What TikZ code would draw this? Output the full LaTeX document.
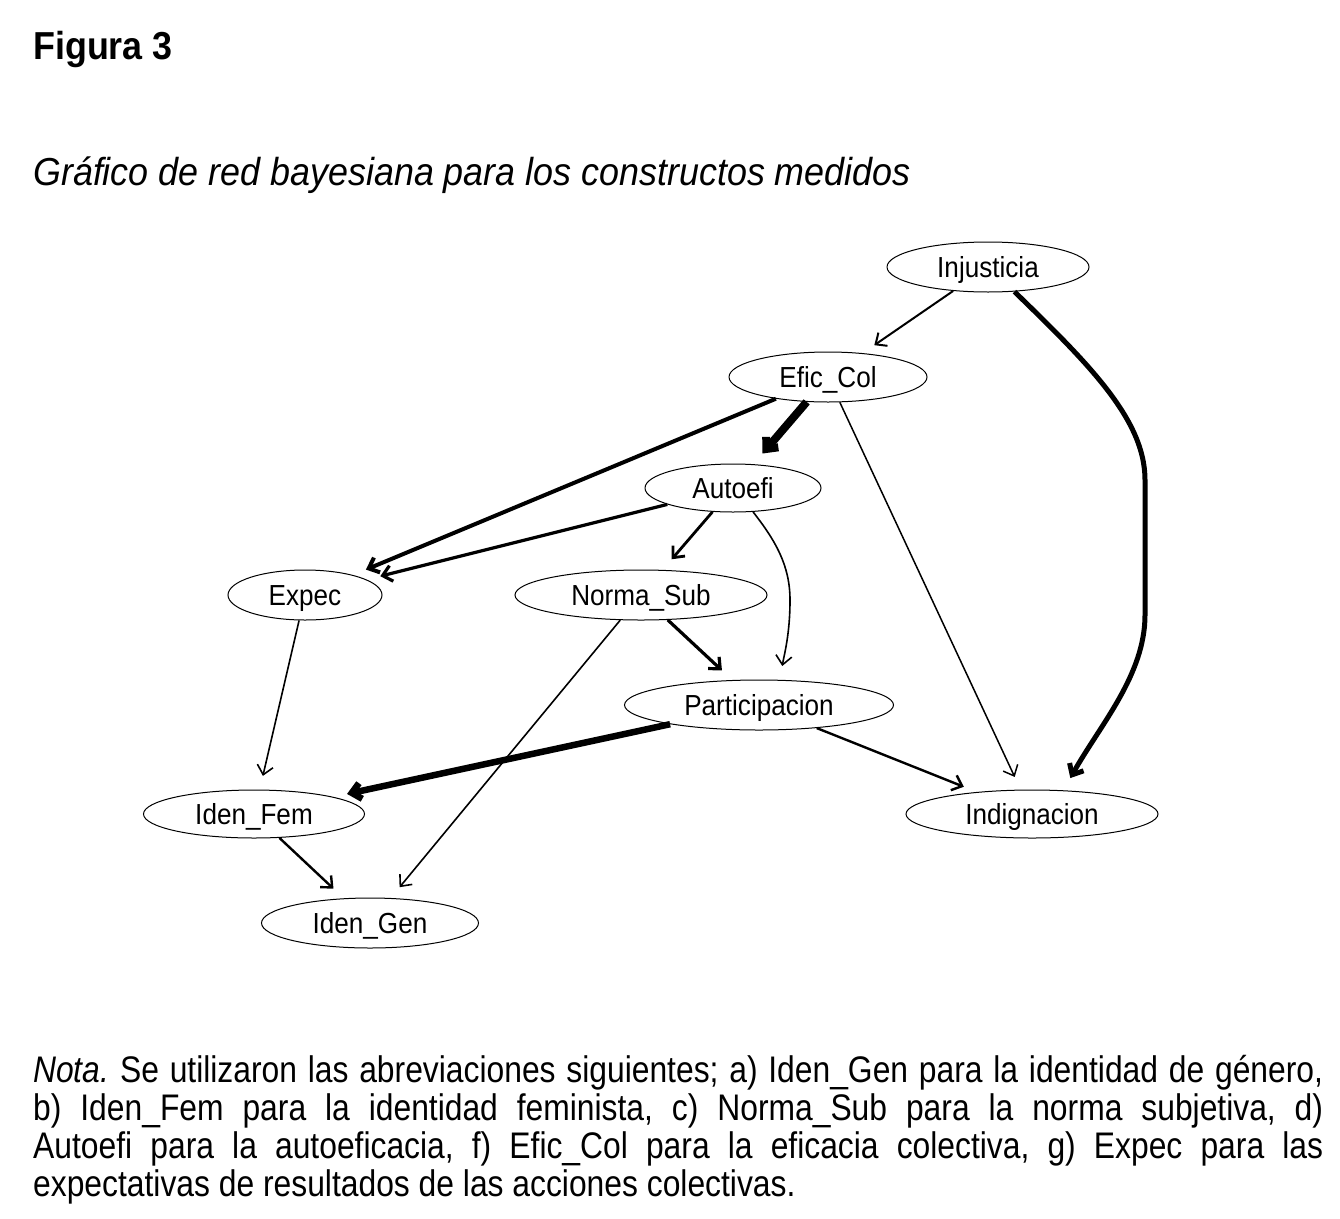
\documentclass[tikz,border=0pt]{standalone}
\usepackage{fontspec}
\setmainfont{Liberation Sans}
\newfontfamily\notafont[FakeStretch=0.86]{Liberation Sans}
\newfontfamily\headfont[FakeStretch=0.92]{Liberation Sans}
\newfontfamily\nodefont[FakeStretch=0.9]{Liberation Sans}
\usetikzlibrary{shapes.geometric,arrows.meta}
\begin{document}
\begin{tikzpicture}[x=1pt,y=-1pt,
  nd/.style={ellipse,draw,line width=1pt,inner sep=0pt,
    font=\nodefont\fontsize{29}{32}\selectfont,text height=20.8pt,text depth=0pt},
  ed/.style={-{Straight Barb[length=9pt,width=16pt]},shorten >=14pt,line join=round},
  txt/.style={inner sep=0pt,anchor=base west}]
\fill[white] (0,0) rectangle (1340,1218);
\useasboundingbox (0,0) rectangle (1340,1218);

\node[txt,font=\headfont\fontsize{39}{42}\selectfont\bfseries] (fig) at (33,59) {Figura 3};
\node[txt,font=\headfont\fontsize{39}{42}\selectfont\itshape] (tit) at (33,185) {Gráfico de red bayesiana para los constructos medidos};

\node[nd,minimum width=202pt,minimum height=50pt] (inj) at (988,267) {Injusticia};
\node[nd,minimum width=198pt,minimum height=50pt] (efic) at (828,377) {Efic\_Col};
\node[nd,minimum width=176pt,minimum height=48pt] (auto) at (733,488) {Autoefi};
\node[nd,minimum width=154pt,minimum height=50pt] (expec) at (305,595) {Expec};
\node[nd,minimum width=252pt,minimum height=50pt] (norma) at (641,595) {Norma\_Sub};
\node[nd,minimum width=269pt,minimum height=50pt] (part) at (759,705) {Participacion};
\node[nd,minimum width=221pt,minimum height=48pt] (idfem) at (254,814) {Iden\_Fem};
\node[nd,minimum width=252pt,minimum height=48pt] (indig) at (1032,814) {Indignacion};
\node[nd,minimum width=217pt,minimum height=50pt] (idgen) at (370,923) {Iden\_Gen};

\draw[ed,line width=2pt] (inj) -- (efic);
\draw[ed,line width=1.5pt] (efic) -- (indig);
\draw[ed,line width=4pt] (efic) -- (expec);
\draw[ed,line width=8pt] (efic) -- (auto);
\draw[ed,line width=3.2pt] (auto) -- (expec);
\draw[ed,line width=2.8pt] (auto) -- (norma);
\draw[ed,line width=1.6pt] (auto.-50) .. controls (775,540) and (790,565) .. (790,600) .. controls (790,635) and (784,655) .. (part.50);
\draw[ed,line width=3.2pt] (norma) -- (part);
\draw[ed,line width=1.6pt] (norma) -- (idgen);
\draw[ed,line width=1.6pt] (expec) -- (idfem);
\draw[ed,line width=6.5pt] (part) -- (idfem);
\draw[ed,line width=2.4pt] (part) -- (indig);
\draw[ed,line width=2.4pt] (idfem) -- (idgen);
\draw[ed,line width=5pt] (inj.-43) .. controls (1090,365) and (1145,420) .. (1145,480) -- (1145,615) .. controls (1145,675) and (1100,725) .. (indig.37);

\node[inner sep=0pt,anchor=north west,text width=1290pt,align=justify,
  font=\notafont\fontsize{37}{38}\selectfont] (nota) at (33,1055.5)
  {\frenchspacing\tolerance=10000\hyphenpenalty=10000\textit{Nota.} Se utilizaron las abreviaciones siguientes; a) Iden\_Gen para la identidad de género,\linebreak
  b) Iden\_Fem para la identidad feminista, c) Norma\_Sub para la norma subjetiva, d)\linebreak
  Autoefi para la autoeficacia, f) Efic\_Col para la eficacia colectiva, g) Expec para las\linebreak
  expectativas de resultados de las acciones colectivas.};
\end{tikzpicture}
\end{document}
